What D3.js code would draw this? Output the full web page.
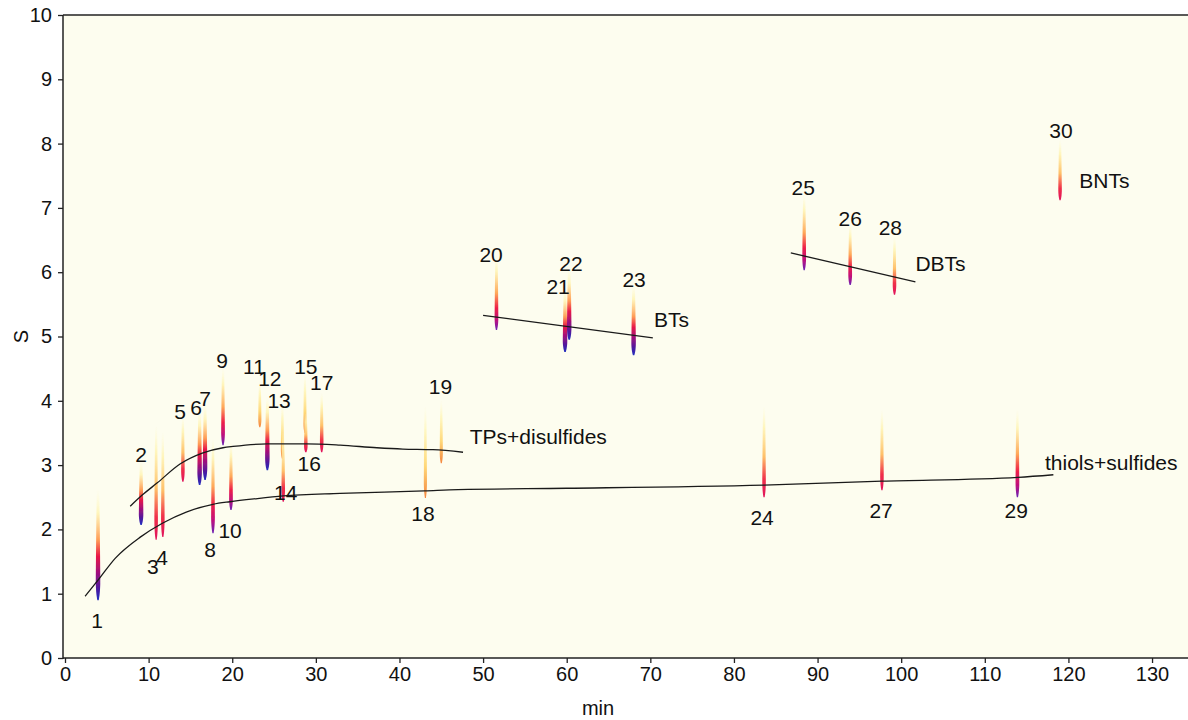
<!DOCTYPE html>
<html><head><meta charset="utf-8">
<script src="https://cdn.jsdelivr.net/npm/d3@7"></script>
<style>
body{margin:0;background:#fff;}
svg{display:block;}
text{font-family:"Liberation Sans",Arial,Helvetica,sans-serif;fill:#111;}
</style>
</head><body>
<svg id="c" width="1188" height="720"></svg>
<script>
// ---- data ----
const xTicks = [0,10,20,30,40,50,60,70,80,90,100,110,120,130];
const yTicks = [0,1,2,3,4,5,6,7,8,9,10];

const peakIds    = [1,2,3,4,5,6,7,8,9,10,11,12,13,14,15,16,17,18,19,20,21,22,23,24,25,26,27,28,29,30];
const peakRT1    = [3.95,9.1,10.9,11.7,14.1,16.1,16.75,17.7,18.9,19.85,23.3,24.2,26.0,26.1,28.7,28.8,30.7,43.1,45.0,51.6,59.8,60.3,68.0,83.6,88.4,93.9,97.7,99.2,113.9,119.0];
const peakTop    = [2.6,3.05,3.6,3.5,3.75,3.85,3.95,3.4,4.5,3.35,4.3,4.05,3.95,3.5,4.4,3.8,4.12,3.9,4.0,6.25,5.75,6.05,5.8,3.9,7.2,6.75,3.85,6.55,3.85,8.05];
const peakBottom = [0.9,2.07,1.84,1.88,2.74,2.69,2.77,1.94,3.31,2.3,3.59,2.92,3.1,2.43,3.5,3.2,3.2,2.49,3.03,5.1,4.76,4.95,4.71,2.5,6.03,5.8,2.61,5.65,2.5,7.12];
const peakLevel  = [4,4,2,2,2,4,4,3,3,3,1,4,1,2,1,2,2,1,1,3,4,4,4,2,3,3,2,2,3,2];

// label anchors (data units)
const labelX = [3.83,9.09,10.5,11.6,13.76,15.67,16.75,17.34,18.78,19.74,22.6,24.5,25.6,26.4,28.8,29.2,30.7,42.8,44.9,50.96,58.97,60.5,68.06,83.37,88.28,93.9,97.6,98.7,113.75,119.1];
const labelY = [0.58,3.16,1.42,1.57,3.84,3.9,4.04,1.68,4.63,1.99,4.54,4.34,4.01,2.58,4.54,3.02,4.29,2.24,4.23,6.28,5.77,6.14,5.88,2.19,7.31,6.84,2.30,6.69,2.30,8.2];

// group trend lines
const thiolsX = [2.4,3.95,6,9,11.7,14.5,17.7,19.7,23,26.1,32.9,43,47,60,83.6,97.7,114,118.2];
const thiolsY = [0.96,1.21,1.55,1.88,2.1,2.27,2.39,2.43,2.48,2.52,2.56,2.6,2.62,2.64,2.69,2.75,2.81,2.85];
const tpsX = [7.8,9.2,11,13.8,16.5,18.9,20.1,24.2,28.9,32.9,37.3,40.4,44,47.6];
const tpsY = [2.36,2.53,2.72,3.02,3.19,3.27,3.29,3.33,3.33,3.31,3.27,3.25,3.24,3.2];
const btsX = [50,70.3];
const btsY = [5.33,4.98];
const dbtsX = [86.8,101.7];
const dbtsY = [6.3,5.85];

const groupNames = ["TPs+disulfides","BTs","DBTs","BNTs","thiols+sulfides"];
const groupX = [48.4,70.45,101.7,121.3,117.2];
const groupY = [3.44,5.26,6.14,7.42,3.04];

// ---- drawing ----
const W = 1188, H = 720;
const svg = d3.select("#c");
const x = d3.scaleLinear().domain([0,134.3]).range([65,1188]);
const y = d3.scaleLinear().domain([0,10]).range([658,15]);
const plotLeft = 63;

const defs = svg.append("defs");
const f = defs.append("filter").attr("id","blur").attr("x","-1").attr("y","-0.2").attr("width","3").attr("height","1.4");
f.append("feGaussianBlur").attr("stdDeviation","0.6");

const gradStops = {
  1: [[0,"#fffbd8",0.1],[0.25,"#fff6b8",0.8],[0.65,"#ffd878",1],[1,"#f4863e",1]],
  2: [[0,"#fffbd8",0.1],[0.22,"#fff4b0",0.8],[0.55,"#ffc068",1],[0.8,"#f0304a",1],[1,"#e0145c",1]],
  3: [[0,"#fffbd8",0.1],[0.2,"#fff4b0",0.8],[0.5,"#ffa858",1],[0.7,"#ee2048",1],[0.86,"#c0107c",1],[1,"#6a22b4",1]],
  4: [[0,"#fffbd8",0.1],[0.2,"#fff4b0",0.8],[0.45,"#ff9c55",1],[0.6,"#e81848",1],[0.75,"#a0107c",1],[0.9,"#4a1aa0",1],[1,"#2230c0",1]]
};
Object.keys(gradStops).forEach(k=>{
  const g = defs.append("linearGradient").attr("id","g"+k).attr("x1",0).attr("y1",0).attr("x2",0).attr("y2",1);
  gradStops[k].forEach(s=>g.append("stop").attr("offset",s[0]).attr("stop-color",s[1]).attr("stop-opacity",s[2]));
});

// background
svg.append("rect").attr("x",plotLeft).attr("y",y(10)).attr("width",W-plotLeft).attr("height",y(0)-y(10)).attr("fill","#fdfdef");

// peaks
const widthByLevel = {1:3.4,2:3.8,3:4.0,4:4.8};
const ts = d3.range(0,1.0001,0.05);
const peaks = peakIds.map((id,i)=>({id, rt:peakRT1[i], top:peakTop[i], bot:peakBottom[i], lvl:peakLevel[i]}));
const pg = svg.append("g").attr("filter","url(#blur)");
peaks.forEach(p=>{
  const hw = widthByLevel[p.lvl]/2;
  const cx = x(p.rt);
  const y0 = y(p.top), y1 = y(p.bot);
  const area = d3.area()
    .y(t=>y0+t*(y1-y0))
    .x0(t=>cx-hw*shape(t))
    .x1(t=>cx+hw*shape(t))
    .curve(d3.curveBasis);
  pg.append("path").attr("d",area(ts)).attr("fill","url(#g"+p.lvl+")");
});
function shape(t){
  let s = 0.45+0.55*Math.pow(t,0.6);
  if(t>0.85) s *= Math.sqrt(Math.max(0,(1-t)/0.15))*0.7+0.3;
  return s;
}

// trend lines
const line = d3.line().x(d=>x(d[0])).y(d=>y(d[1]));
const lg = svg.append("g").attr("fill","none").attr("stroke","#1a1a1a").attr("stroke-width",1.3);
lg.append("path").attr("d",line.curve(d3.curveMonotoneX)(d3.zip(thiolsX,thiolsY)));
lg.append("path").attr("d",line.curve(d3.curveMonotoneX)(d3.zip(tpsX,tpsY)));
lg.append("path").attr("d",line.curve(d3.curveLinear)(d3.zip(btsX,btsY)));
lg.append("path").attr("d",line.curve(d3.curveLinear)(d3.zip(dbtsX,dbtsY)));

// peak labels
svg.append("g").selectAll("text").data(peakIds).join("text")
  .attr("x",(d,i)=>x(labelX[i])).attr("y",(d,i)=>y(labelY[i]))
  .attr("text-anchor","middle").attr("dominant-baseline","central")
  .attr("font-size",21).text(d=>d);

// group labels
svg.append("g").selectAll("text").data(groupNames).join("text")
  .attr("x",(d,i)=>x(groupX[i])).attr("y",(d,i)=>y(groupY[i]))
  .attr("dominant-baseline","central").attr("font-size",21).text(d=>d);

// axes
const xAxis = d3.axisBottom(x).tickValues(xTicks).tickSize(5).tickPadding(4).tickSizeOuter(0);
const gx = svg.append("g").attr("transform",`translate(0,${y(0)})`).call(xAxis);
gx.select(".domain").remove();
gx.selectAll("text").attr("font-size",20).attr("fill","#111").attr("font-family",null);
gx.selectAll("line").attr("stroke","#222").attr("stroke-width",1.3);
svg.append("line").attr("x1",plotLeft).attr("x2",W).attr("y1",y(0)).attr("y2",y(0)).attr("stroke","#222").attr("stroke-width",1.5);
svg.append("line").attr("x1",plotLeft).attr("x2",W).attr("y1",y(10)).attr("y2",y(10)).attr("stroke","#222").attr("stroke-width",1.5);

const yAxis = d3.axisLeft(y).tickValues(yTicks).tickSize(5).tickPadding(6).tickSizeOuter(0);
const gy = svg.append("g").attr("transform",`translate(${plotLeft},0)`).call(yAxis);
gy.select(".domain").remove();
gy.selectAll("text").attr("font-size",20).attr("fill","#111").attr("font-family",null);
gy.selectAll("line").attr("stroke","#222").attr("stroke-width",1.3);
svg.append("line").attr("x1",plotLeft).attr("x2",plotLeft).attr("y1",y(10)).attr("y2",y(0)+1).attr("stroke","#222").attr("stroke-width",1.5);

// axis titles
svg.append("text").attr("x",598).attr("y",708).attr("text-anchor","middle").attr("dominant-baseline","central").attr("font-size",20).text("min");
svg.append("text").attr("transform",`translate(21,${(y(0)+y(10))/2}) rotate(-90)`).attr("text-anchor","middle").attr("dominant-baseline","central").attr("font-size",20).text("S");
</script>
</body></html>
